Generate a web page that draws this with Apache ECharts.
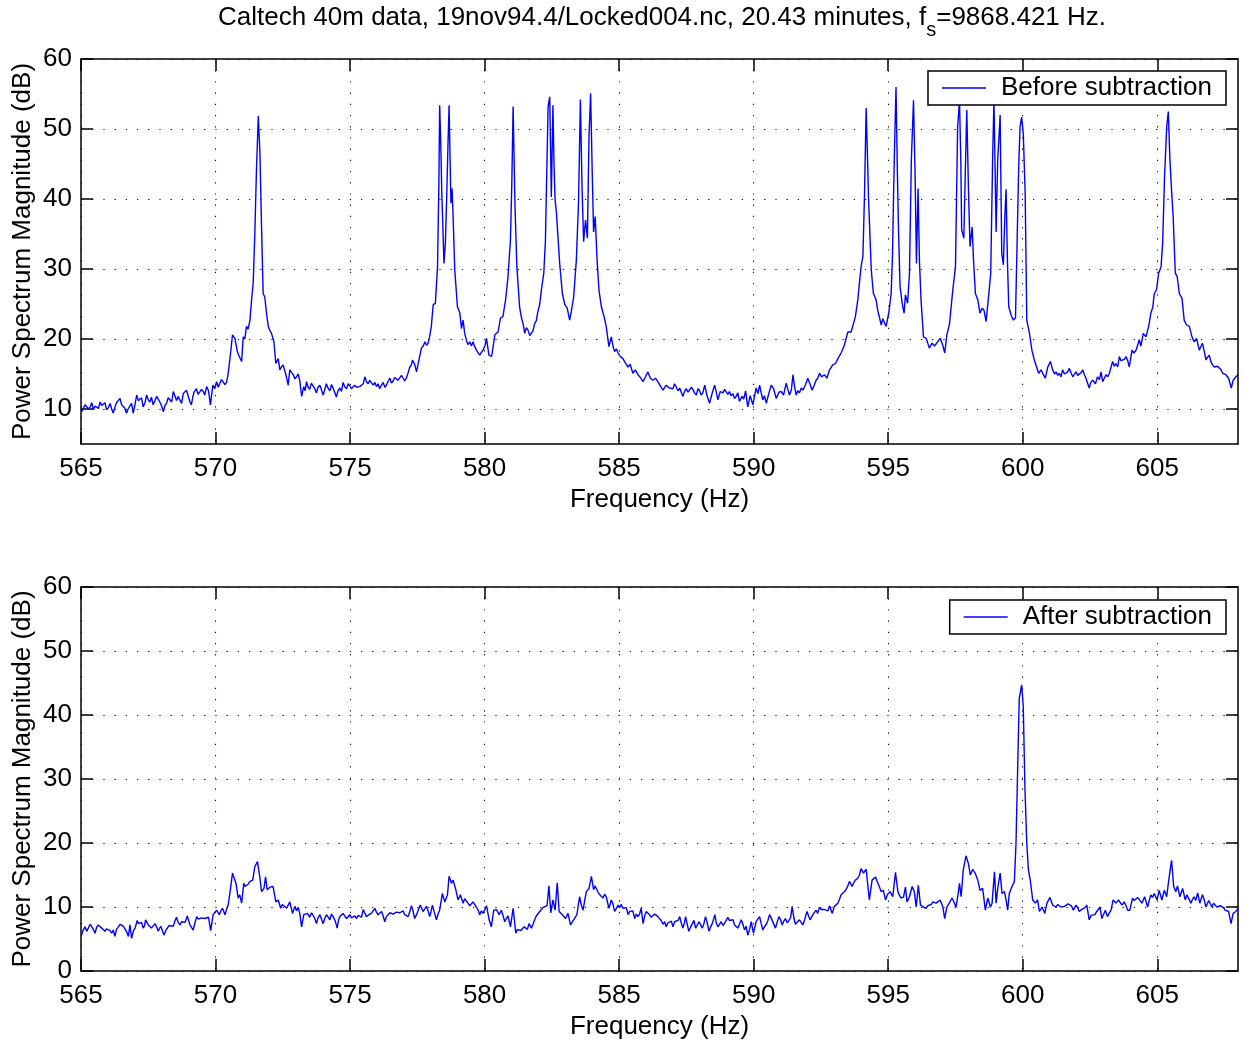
<!DOCTYPE html>
<html><head><meta charset="utf-8">
<script src="https://cdn.jsdelivr.net/npm/echarts@6/dist/echarts.min.js"></script>
<style>html,body{margin:0;padding:0;background:#fff}#c{width:1243px;height:1042px}</style>
</head><body><div id="c"></div>
<script>
const xTicks=[565,570,575,580,585,590,595,600,605];
const yTicksTop=[10,20,30,40,50,60];
const yTicksBottom=[0,10,20,30,40,50,60];
const titleMain='Caltech 40m data, 19nov94.4/Locked004.nc, 20.43 minutes, f';
const titleSub='s';
const titleTail='=9868.421 Hz.';
const xName='Frequency (Hz)';
const yName='Power Spectrum Magnitude (dB)';
const beforeName='Before subtraction';
const afterName='After subtraction';

const beforeData=[[565.02,9.6],[565.09,10.1],[565.15,10.6],[565.21,10.8],[565.28,10.0],[565.34,10.3],[565.40,10.9],[565.46,9.9],[565.52,10.4],[565.58,10.6],[565.65,10.1],[565.71,11.0],[565.77,10.5],[565.83,10.4],[565.89,10.9],[565.95,9.9],[566.02,10.2],[566.08,10.8],[566.14,10.0],[566.20,9.4],[566.26,10.3],[566.32,10.9],[566.38,11.2],[566.45,11.5],[566.51,10.6],[566.57,10.7],[566.63,10.1],[566.69,9.4],[566.75,10.0],[566.82,10.2],[566.88,10.8],[566.94,9.4],[567.00,10.5],[567.07,12.0],[567.13,11.2],[567.19,11.0],[567.25,11.6],[567.31,10.3],[567.38,10.9],[567.44,12.0],[567.50,11.3],[567.56,11.0],[567.62,11.7],[567.68,10.6],[567.75,11.2],[567.81,11.8],[567.87,11.4],[567.93,11.0],[568.00,10.4],[568.06,9.6],[568.12,10.5],[568.18,10.8],[568.24,11.6],[568.30,11.5],[568.37,11.0],[568.43,12.5],[568.49,11.9],[568.55,11.2],[568.61,11.8],[568.67,11.3],[568.74,10.8],[568.80,12.2],[568.86,12.0],[568.92,12.7],[569.00,11.6],[569.05,11.0],[569.10,10.6],[569.15,11.6],[569.20,12.4],[569.29,12.9],[569.35,12.1],[569.42,12.2],[569.48,12.8],[569.54,12.5],[569.60,12.0],[569.67,13.2],[569.74,12.6],[569.81,10.6],[569.90,13.4],[569.97,12.9],[570.04,13.9],[570.10,13.1],[570.16,13.3],[570.22,14.2],[570.29,14.1],[570.35,13.5],[570.41,13.8],[570.47,15.1],[570.56,18.0],[570.63,20.6],[570.72,20.1],[570.81,18.2],[570.88,17.5],[570.97,16.8],[571.03,20.3],[571.09,20.0],[571.15,21.8],[571.21,21.4],[571.28,22.7],[571.34,25.6],[571.40,28.0],[571.46,35.0],[571.52,44.0],[571.59,51.9],[571.65,46.5],[571.71,36.0],[571.77,26.5],[571.83,26.0],[571.90,23.5],[571.96,21.8],[572.02,21.2],[572.08,20.8],[572.17,19.6],[572.24,16.5],[572.33,17.2],[572.39,15.6],[572.45,16.0],[572.51,16.3],[572.61,15.0],[572.70,13.4],[572.76,15.6],[572.83,15.2],[572.89,14.9],[572.95,14.3],[573.01,14.6],[573.07,15.0],[573.13,14.1],[573.20,11.8],[573.28,13.2],[573.33,12.6],[573.38,13.9],[573.44,13.1],[573.50,12.8],[573.56,13.7],[573.63,13.5],[573.69,12.9],[573.75,12.3],[573.81,13.1],[573.88,13.4],[573.94,12.7],[574.00,12.0],[574.06,12.8],[574.12,13.6],[574.18,13.0],[574.25,12.6],[574.31,13.5],[574.37,13.3],[574.43,12.4],[574.49,11.7],[574.55,12.6],[574.62,13.0],[574.68,12.5],[574.74,13.8],[574.80,13.2],[574.87,12.9],[574.93,13.6],[574.99,13.3],[575.05,12.9],[575.11,12.7],[575.17,13.4],[575.24,13.1],[575.30,13.0],[575.36,13.2],[575.42,13.4],[575.49,13.6],[575.55,14.6],[575.61,13.9],[575.67,13.6],[575.73,14.1],[575.80,14.2],[575.86,13.4],[575.92,13.8],[575.98,13.2],[576.04,13.6],[576.10,12.9],[576.17,13.4],[576.23,13.8],[576.29,13.1],[576.35,13.4],[576.42,14.0],[576.48,14.4],[576.54,13.7],[576.60,14.0],[576.66,14.5],[576.72,14.7],[576.78,14.1],[576.85,14.3],[576.91,14.8],[576.97,14.9],[577.03,14.0],[577.09,14.4],[577.16,15.2],[577.22,16.0],[577.28,16.3],[577.32,17.0],[577.40,16.4],[577.47,15.3],[577.57,17.2],[577.65,18.7],[577.72,19.0],[577.78,19.6],[577.84,19.1],[577.90,19.4],[577.96,20.4],[578.02,21.8],[578.09,24.9],[578.17,25.1],[578.25,30.3],[578.30,42.0],[578.33,53.4],[578.37,48.0],[578.41,40.8],[578.49,30.8],[578.54,33.5],[578.59,40.0],[578.64,48.0],[578.68,53.4],[578.72,45.0],[578.75,39.4],[578.79,41.5],[578.83,37.5],[578.89,29.9],[578.99,24.6],[579.08,23.7],[579.14,21.5],[579.20,22.7],[579.26,20.8],[579.32,19.9],[579.38,19.2],[579.45,19.6],[579.51,19.0],[579.57,19.6],[579.63,18.9],[579.70,18.4],[579.76,18.0],[579.82,17.7],[579.88,18.1],[579.94,18.4],[580.01,19.0],[580.07,20.1],[580.16,17.7],[580.26,17.5],[580.32,19.0],[580.38,20.6],[580.44,20.8],[580.50,21.0],[580.59,23.0],[580.68,23.2],[580.78,25.6],[580.87,28.9],[580.96,34.1],[581.01,42.0],[581.06,53.2],[581.09,47.0],[581.13,38.9],[581.20,30.3],[581.30,24.6],[581.36,23.2],[581.43,22.2],[581.49,20.8],[581.55,21.6],[581.61,21.3],[581.68,20.5],[581.74,20.3],[581.80,21.2],[581.86,22.2],[581.92,22.6],[581.98,23.9],[582.05,25.0],[582.11,27.0],[582.20,29.4],[582.26,34.0],[582.29,39.9],[582.36,53.2],[582.42,54.6],[582.48,40.3],[582.54,53.4],[582.58,45.0],[582.62,39.9],[582.67,38.0],[582.73,38.2],[582.79,30.8],[582.89,26.5],[582.98,24.9],[583.07,24.4],[583.16,22.7],[583.22,23.9],[583.31,26.0],[583.41,31.3],[583.49,39.4],[583.56,54.2],[583.62,41.8],[583.68,33.9],[583.75,37.0],[583.82,34.4],[583.88,48.9],[583.94,55.1],[584.00,43.7],[584.05,35.3],[584.11,37.5],[584.18,31.3],[584.25,27.0],[584.34,24.6],[584.44,23.2],[584.52,21.8],[584.62,18.9],[584.71,20.3],[584.77,19.0],[584.83,18.2],[584.90,18.6],[584.96,18.0],[585.04,17.5],[585.14,17.2],[585.23,16.6],[585.33,16.0],[585.41,16.4],[585.51,15.1],[585.60,15.6],[585.70,14.9],[585.79,14.5],[585.88,13.9],[585.98,14.6],[586.07,15.3],[586.16,14.4],[586.26,14.1],[586.35,14.4],[586.44,13.9],[586.53,13.3],[586.63,12.7],[586.75,13.4],[586.87,13.0],[587.00,12.9],[587.06,13.6],[587.12,13.4],[587.19,12.6],[587.25,13.0],[587.31,12.4],[587.37,11.8],[587.43,12.5],[587.49,12.9],[587.56,12.4],[587.62,12.2],[587.68,13.1],[587.74,12.8],[587.80,12.3],[587.87,12.0],[587.93,12.9],[587.99,12.6],[588.05,12.0],[588.11,12.3],[588.18,13.4],[588.26,12.0],[588.36,10.8],[588.46,12.3],[588.55,13.4],[588.61,12.4],[588.67,11.3],[588.76,12.5],[588.86,12.3],[588.92,12.8],[588.98,13.0],[589.04,12.1],[589.10,12.5],[589.16,11.9],[589.23,12.2],[589.29,11.5],[589.35,11.8],[589.41,12.3],[589.47,11.1],[589.57,11.8],[589.63,11.4],[589.70,12.6],[589.78,10.3],[589.87,11.9],[589.97,10.6],[590.03,11.8],[590.09,13.0],[590.16,12.2],[590.22,13.4],[590.28,12.3],[590.34,11.3],[590.40,11.9],[590.47,10.8],[590.56,12.2],[590.65,13.4],[590.74,12.9],[590.84,11.5],[590.94,12.4],[591.02,12.5],[591.11,12.0],[591.21,13.7],[591.27,12.8],[591.33,12.0],[591.40,12.7],[591.46,14.9],[591.52,13.2],[591.58,12.0],[591.64,12.6],[591.70,12.3],[591.77,13.0],[591.83,12.7],[591.93,13.5],[592.01,14.4],[592.09,13.6],[592.17,12.7],[592.25,13.4],[592.32,14.1],[592.38,14.4],[592.45,15.1],[592.53,14.6],[592.63,14.9],[592.72,14.4],[592.82,15.6],[592.88,15.4],[592.94,16.3],[593.04,16.5],[593.13,17.2],[593.25,18.0],[593.37,19.1],[593.50,21.0],[593.56,20.8],[593.62,21.0],[593.68,21.8],[593.78,23.2],[593.87,25.6],[593.99,30.3],[594.06,31.8],[594.12,40.8],[594.18,53.0],[594.23,46.0],[594.27,39.9],[594.37,29.9],[594.45,26.5],[594.55,25.6],[594.61,24.1],[594.68,23.0],[594.74,22.0],[594.80,22.9],[594.84,23.0],[594.92,21.8],[595.02,23.7],[595.11,26.5],[595.16,32.0],[595.20,40.8],[595.24,48.0],[595.29,56.0],[595.34,44.0],[595.38,36.0],[595.44,27.5],[595.52,25.1],[595.59,23.7],[595.64,26.3],[595.72,25.1],[595.79,29.4],[595.86,45.6],[595.94,54.1],[596.00,43.2],[596.05,30.8],[596.11,41.5],[596.16,31.3],[596.22,25.6],[596.31,20.3],[596.41,20.1],[596.53,18.7],[596.63,19.4],[596.72,19.0],[596.80,19.4],[596.93,20.1],[597.03,19.1],[597.10,18.0],[597.18,20.6],[597.28,22.2],[597.40,27.0],[597.50,30.3],[597.58,50.3],[597.65,54.0],[597.70,45.0],[597.73,35.6],[597.81,34.4],[597.87,44.6],[597.92,52.7],[597.98,41.8],[598.04,33.2],[598.12,36.0],[598.17,31.3],[598.24,26.5],[598.33,25.6],[598.41,23.7],[598.49,24.4],[598.56,24.1],[598.64,22.5],[598.74,26.5],[598.81,29.4],[598.88,45.6],[598.93,54.1],[598.97,45.0],[599.01,35.3],[599.07,45.6],[599.16,52.0],[599.19,42.0],[599.22,32.2],[599.28,30.6],[599.33,37.0],[599.38,41.4],[599.43,31.3],[599.48,24.6],[599.57,23.4],[599.65,22.7],[599.73,23.0],[599.79,33.7],[599.85,44.6],[599.90,50.3],[599.96,51.7],[600.02,49.4],[600.09,40.8],[600.15,22.7],[600.25,20.8],[600.34,18.4],[600.43,17.0],[600.49,16.8],[600.59,15.1],[600.68,15.6],[600.74,15.1],[600.84,14.4],[600.93,16.0],[601.03,16.8],[601.11,15.6],[601.18,15.0],[601.24,15.3],[601.30,14.8],[601.36,15.1],[601.42,14.6],[601.48,15.6],[601.55,15.0],[601.61,14.9],[601.67,15.3],[601.73,15.8],[601.80,15.1],[601.86,14.6],[601.92,15.0],[601.98,15.3],[602.04,14.8],[602.10,14.6],[602.17,15.2],[602.23,15.6],[602.29,14.9],[602.35,14.4],[602.41,14.5],[602.47,13.0],[602.53,13.8],[602.60,14.1],[602.70,13.6],[602.78,14.6],[602.85,14.2],[602.91,15.3],[602.97,13.9],[603.03,14.4],[603.09,14.9],[603.16,14.6],[603.22,15.1],[603.28,14.9],[603.34,16.8],[603.40,16.1],[603.46,16.5],[603.53,16.0],[603.59,17.5],[603.65,16.9],[603.71,16.8],[603.78,17.1],[603.84,17.5],[603.90,16.9],[603.96,16.0],[604.06,18.4],[604.13,18.0],[604.21,18.4],[604.27,19.1],[604.33,19.9],[604.39,19.0],[604.48,20.8],[604.58,20.3],[604.68,21.8],[604.76,23.7],[604.83,24.5],[604.89,26.5],[604.97,27.0],[605.05,29.4],[605.14,30.3],[605.20,33.7],[605.27,43.2],[605.35,50.3],[605.41,52.5],[605.47,45.6],[605.53,41.3],[605.59,37.5],[605.67,29.4],[605.74,28.9],[605.82,26.5],[605.92,25.8],[606.00,22.7],[606.09,22.0],[606.19,21.8],[606.29,20.3],[606.37,19.6],[606.46,20.1],[606.56,18.4],[606.62,18.9],[606.68,19.4],[606.75,18.2],[606.81,17.0],[606.87,17.4],[606.93,17.7],[606.99,16.8],[607.05,16.3],[607.12,16.0],[607.18,15.8],[607.24,16.1],[607.30,16.3],[607.37,15.6],[607.43,15.1],[607.49,15.3],[607.55,14.9],[607.65,14.4],[607.75,13.0],[607.82,14.1],[607.92,14.6],[608.00,14.9]];

const afterData=[[565.02,5.6],[565.08,6.4],[565.15,6.9],[565.21,6.2],[565.27,6.7],[565.34,7.3],[565.40,7.0],[565.46,6.5],[565.52,5.9],[565.58,6.8],[565.64,7.2],[565.71,6.9],[565.77,6.7],[565.83,7.0],[565.89,6.2],[565.95,6.6],[566.02,6.9],[566.08,6.3],[566.14,5.9],[566.20,6.4],[566.26,5.4],[566.32,6.5],[566.39,6.9],[566.45,7.3],[566.51,7.6],[566.57,7.0],[566.63,6.7],[566.70,6.1],[566.76,5.4],[566.82,7.2],[566.88,5.1],[566.95,6.3],[567.01,6.7],[567.09,7.9],[567.14,7.4],[567.19,7.2],[567.25,7.6],[567.31,6.7],[567.36,7.1],[567.40,8.0],[567.45,7.6],[567.50,7.2],[567.56,7.5],[567.62,6.7],[567.68,7.0],[567.75,7.4],[567.81,6.9],[567.87,6.2],[567.96,7.0],[568.02,6.4],[568.08,5.6],[568.15,6.3],[568.21,6.7],[568.27,7.1],[568.33,7.4],[568.43,7.0],[568.49,7.8],[568.55,8.4],[568.61,7.6],[568.68,7.2],[568.74,7.7],[568.80,8.0],[568.87,7.6],[568.95,8.6],[569.05,7.2],[569.11,7.5],[569.17,6.4],[569.24,7.6],[569.30,8.5],[569.36,8.1],[569.42,7.9],[569.48,8.3],[569.54,8.6],[569.60,8.2],[569.67,8.0],[569.74,8.4],[569.82,6.3],[569.91,8.8],[569.97,9.1],[570.04,9.5],[570.14,8.8],[570.20,9.4],[570.26,9.8],[570.35,8.8],[570.41,9.6],[570.47,10.3],[570.56,13.0],[570.63,15.3],[570.70,14.4],[570.76,13.7],[570.84,11.4],[570.90,11.9],[570.97,10.6],[571.05,13.7],[571.10,13.2],[571.15,12.9],[571.22,13.6],[571.28,14.0],[571.38,14.2],[571.46,16.3],[571.56,17.1],[571.65,14.5],[571.71,12.4],[571.80,12.9],[571.86,14.7],[571.92,12.7],[571.97,13.0],[572.02,13.1],[572.08,13.4],[572.14,13.2],[572.24,10.8],[572.33,11.1],[572.42,9.8],[572.48,10.4],[572.54,10.6],[572.64,9.8],[572.70,10.3],[572.76,10.8],[572.86,9.0],[572.95,10.1],[573.01,9.4],[573.07,9.95],[573.13,9.0],[573.20,6.9],[573.28,8.8],[573.35,8.6],[573.41,9.0],[573.50,8.4],[573.57,9.1],[573.63,8.8],[573.69,8.2],[573.75,7.4],[573.81,8.3],[573.88,8.8],[573.94,8.1],[574.00,7.4],[574.06,8.2],[574.12,8.8],[574.19,8.4],[574.25,8.0],[574.31,8.9],[574.37,8.5],[574.45,7.8],[574.52,6.7],[574.57,7.9],[574.62,8.5],[574.68,8.2],[574.74,9.0],[574.80,8.6],[574.87,8.2],[574.93,8.5],[574.99,8.8],[575.05,8.3],[575.11,8.0],[575.18,8.6],[575.24,8.2],[575.30,8.7],[575.36,8.9],[575.42,8.4],[575.49,9.6],[575.55,9.0],[575.61,8.5],[575.70,8.8],[575.79,9.0],[575.85,8.7],[575.92,9.8],[575.98,9.2],[576.04,8.8],[576.10,9.0],[576.17,9.3],[576.23,8.6],[576.29,7.7],[576.35,8.5],[576.41,8.8],[576.48,9.1],[576.54,9.3],[576.60,8.9],[576.66,8.8],[576.72,9.2],[576.79,9.5],[576.85,9.1],[576.91,9.0],[576.97,9.4],[577.03,8.8],[577.10,9.1],[577.16,8.5],[577.22,9.3],[577.28,10.2],[577.34,9.4],[577.40,8.2],[577.47,8.8],[577.53,9.0],[577.61,10.3],[577.71,9.3],[577.78,9.7],[577.84,10.1],[577.90,9.4],[577.96,8.5],[578.01,9.3],[578.06,10.3],[578.13,9.2],[578.21,8.0],[578.27,8.9],[578.33,9.5],[578.43,12.1],[578.52,10.8],[578.62,11.9],[578.68,14.8],[578.77,13.7],[578.83,14.2],[578.93,12.7],[579.01,11.1],[579.10,11.9],[579.20,10.6],[579.26,11.3],[579.32,11.1],[579.38,10.6],[579.45,10.2],[579.51,10.5],[579.57,10.8],[579.63,10.4],[579.70,10.1],[579.76,9.5],[579.82,8.8],[579.88,9.4],[579.94,9.0],[580.01,9.6],[580.07,10.2],[580.17,8.0],[580.25,6.9],[580.34,9.5],[580.44,9.6],[580.54,8.8],[580.62,9.5],[580.69,8.6],[580.75,7.7],[580.81,8.2],[580.87,8.6],[580.96,6.9],[581.06,9.8],[581.16,5.9],[581.22,6.5],[581.28,6.8],[581.34,6.3],[581.40,6.3],[581.47,6.9],[581.53,6.7],[581.59,6.5],[581.65,7.4],[581.74,6.7],[581.80,7.3],[581.86,8.0],[581.92,8.6],[581.99,8.8],[582.05,9.3],[582.11,9.6],[582.17,9.9],[582.23,10.1],[582.32,10.2],[582.39,13.3],[582.46,9.1],[582.54,11.1],[582.62,9.5],[582.70,13.8],[582.77,9.3],[582.83,9.6],[582.89,8.8],[582.95,8.5],[583.01,8.2],[583.10,9.0],[583.19,7.2],[583.25,7.6],[583.31,8.0],[583.37,8.3],[583.43,8.8],[583.53,11.6],[583.59,10.4],[583.66,9.5],[583.72,11.0],[583.78,12.4],[583.88,12.9],[583.97,14.8],[584.05,12.7],[584.10,13.3],[584.15,12.9],[584.22,12.3],[584.28,11.9],[584.34,12.2],[584.40,11.4],[584.46,12.0],[584.52,11.6],[584.62,9.8],[584.71,11.1],[584.77,10.5],[584.83,9.3],[584.90,9.8],[584.96,10.3],[585.02,9.9],[585.08,10.4],[585.14,9.8],[585.21,9.6],[585.27,9.9],[585.33,8.8],[585.39,9.3],[585.45,9.0],[585.51,9.4],[585.58,8.2],[585.64,8.9],[585.70,8.5],[585.76,8.9],[585.82,9.8],[585.89,7.4],[585.95,8.6],[586.01,9.3],[586.07,9.0],[586.13,8.8],[586.19,8.4],[586.26,8.2],[586.32,8.9],[586.38,8.8],[586.44,8.5],[586.50,8.2],[586.56,7.9],[586.63,7.3],[586.69,7.7],[586.75,6.9],[586.81,7.5],[586.88,7.3],[586.94,7.8],[587.00,6.9],[587.06,7.7],[587.12,7.4],[587.19,7.9],[587.25,8.5],[587.31,7.5],[587.37,6.7],[587.43,7.6],[587.47,8.5],[587.53,7.3],[587.59,6.2],[587.66,6.9],[587.72,7.4],[587.78,7.9],[587.84,6.7],[587.90,7.0],[587.97,7.7],[588.03,7.2],[588.09,6.7],[588.15,7.4],[588.21,8.5],[588.27,7.6],[588.34,6.2],[588.40,6.9],[588.46,7.4],[588.56,8.8],[588.61,7.5],[588.67,6.9],[588.73,7.3],[588.79,7.7],[588.86,7.1],[588.92,7.4],[588.98,7.9],[589.04,8.4],[589.10,7.9],[589.17,7.7],[589.23,8.0],[589.29,7.2],[589.35,7.5],[589.41,6.7],[589.47,7.3],[589.54,8.0],[589.60,7.3],[589.66,6.4],[589.72,7.0],[589.78,5.6],[589.85,6.5],[589.91,7.7],[589.99,5.9],[590.09,7.7],[590.15,8.0],[590.22,8.5],[590.28,7.4],[590.34,6.4],[590.40,6.9],[590.47,7.3],[590.53,7.9],[590.59,8.8],[590.65,8.3],[590.71,8.5],[590.81,6.7],[590.87,7.6],[590.94,8.5],[591.00,8.0],[591.06,7.2],[591.12,7.8],[591.18,8.2],[591.25,7.5],[591.31,7.7],[591.37,8.3],[591.43,10.1],[591.49,8.4],[591.55,7.3],[591.62,7.6],[591.70,8.0],[591.76,7.7],[591.83,7.2],[591.90,8.1],[591.98,9.3],[592.04,8.6],[592.10,8.0],[592.20,8.8],[592.26,9.1],[592.32,9.5],[592.38,9.0],[592.45,9.95],[592.51,9.6],[592.57,9.3],[592.63,9.6],[592.69,9.8],[592.76,9.4],[592.82,10.2],[592.92,9.0],[593.00,10.1],[593.07,10.4],[593.13,10.6],[593.19,11.2],[593.25,11.9],[593.31,11.6],[593.37,12.4],[593.44,12.8],[593.50,13.3],[593.56,14.0],[593.66,13.2],[593.72,13.8],[593.78,14.2],[593.87,14.5],[593.93,15.0],[593.99,16.0],[594.08,15.3],[594.18,15.9],[594.24,15.8],[594.30,11.1],[594.40,14.2],[594.46,14.5],[594.53,14.7],[594.59,14.0],[594.65,13.4],[594.74,12.4],[594.82,12.6],[594.90,11.1],[594.98,12.0],[595.07,12.4],[595.17,11.6],[595.27,15.4],[595.36,12.4],[595.42,11.8],[595.48,11.4],[595.57,11.6],[595.64,13.1],[595.70,10.8],[595.79,11.6],[595.89,13.2],[595.97,12.4],[596.04,10.0],[596.12,13.4],[596.20,10.3],[596.31,10.0],[596.41,9.8],[596.47,10.2],[596.53,9.95],[596.60,10.4],[596.66,10.8],[596.72,10.5],[596.78,10.6],[596.85,10.9],[596.93,11.1],[597.03,10.0],[597.10,8.2],[597.18,10.0],[597.27,10.6],[597.37,11.4],[597.45,10.7],[597.52,9.95],[597.60,12.1],[597.65,13.7],[597.71,11.6],[597.79,15.8],[597.89,18.0],[597.98,16.8],[598.05,15.0],[598.14,15.9],[598.24,15.2],[598.33,14.2],[598.41,12.6],[598.51,12.9],[598.61,9.5],[598.70,11.4],[598.80,10.0],[598.86,10.6],[598.95,15.5],[599.01,10.6],[599.08,13.2],[599.16,15.3],[599.23,12.1],[599.32,12.4],[599.38,11.1],[599.44,9.5],[599.50,12.1],[599.60,13.2],[599.69,14.0],[599.75,20.0],[599.81,31.4],[599.87,42.6],[599.96,44.7],[600.02,41.3],[600.08,28.8],[600.15,20.0],[600.21,15.8],[600.28,14.2],[600.37,11.1],[600.47,10.6],[600.55,11.1],[600.62,9.3],[600.72,10.0],[600.82,9.0],[600.90,10.6],[600.96,10.9],[601.01,11.5],[601.11,10.3],[601.17,10.5],[601.24,10.0],[601.30,10.4],[601.36,10.3],[601.42,10.0],[601.48,9.8],[601.55,10.1],[601.61,10.3],[601.69,10.5],[601.76,10.8],[601.82,10.1],[601.88,9.5],[601.93,9.9],[601.98,10.3],[602.04,9.9],[602.10,9.3],[602.18,9.6],[602.25,9.5],[602.31,9.9],[602.38,10.3],[602.47,8.0],[602.54,8.7],[602.60,9.0],[602.68,8.8],[602.75,9.3],[602.81,9.6],[602.87,10.0],[602.94,8.2],[603.01,8.9],[603.07,9.5],[603.15,8.5],[603.21,9.0],[603.28,9.5],[603.36,11.1],[603.46,10.6],[603.56,11.1],[603.62,10.7],[603.69,10.3],[603.77,10.8],[603.84,10.2],[603.90,9.5],[603.98,9.5],[604.08,11.4],[604.14,11.0],[604.21,11.1],[604.27,11.5],[604.33,11.6],[604.43,10.6],[604.53,11.6],[604.64,10.0],[604.70,11.0],[604.76,11.9],[604.82,11.5],[604.89,12.1],[604.99,11.1],[605.07,12.6],[605.17,11.1],[605.26,12.6],[605.35,11.6],[605.42,14.0],[605.53,17.3],[605.61,13.2],[605.69,12.4],[605.75,13.3],[605.84,11.6],[605.94,12.9],[606.04,11.1],[606.10,11.9],[606.16,11.6],[606.25,10.6],[606.31,11.2],[606.37,11.6],[606.43,11.0],[606.50,12.2],[606.58,10.6],[606.68,11.9],[606.74,11.2],[606.81,10.0],[606.91,11.0],[606.97,10.5],[607.03,10.0],[607.09,10.6],[607.15,10.3],[607.21,10.0],[607.28,9.8],[607.34,10.2],[607.40,10.3],[607.46,9.9],[607.52,9.5],[607.58,9.8],[607.65,9.3],[607.74,7.4],[607.82,9.0],[607.92,9.3],[608.00,9.8]];

const FONT='"Liberation Sans", Arial, Helvetica, sans-serif';
const FS=26;
const AXC='#000';
const LINEC='#0000ff';
const textBase={color:'#000',fontSize:FS,fontFamily:FONT};
const dotted={show:true,lineStyle:{color:'#000',width:1.1,type:[1.2,10]}};

function xAxes(gi){
  return [
    {type:'value',gridIndex:gi,min:565,max:608,position:'bottom',
     axisLine:{show:true,onZero:false,lineStyle:{color:AXC,width:1.5}},
     axisTick:{show:true,inside:true,length:12,customValues:xTicks,lineStyle:{color:AXC,width:1.5}},
     axisLabel:{show:true,customValues:xTicks,margin:12,...textBase},
     splitLine:dotted,
     name:xName,nameLocation:'middle',nameGap:43,nameTextStyle:textBase},
    {type:'value',gridIndex:gi,min:565,max:608,position:'top',
     axisLine:{show:true,onZero:false,lineStyle:{color:AXC,width:1.5}},
     axisTick:{show:true,inside:true,length:12,customValues:xTicks,lineStyle:{color:AXC,width:1.5}},
     axisLabel:{show:false},splitLine:{show:false}}
  ];
}
function yAxes(gi,mn,ticks){
  return [
    {type:'value',gridIndex:gi,min:mn,max:60,position:'left',
     axisLine:{show:true,onZero:false,lineStyle:{color:AXC,width:1.5}},
     axisTick:{show:true,inside:true,length:12,customValues:ticks,lineStyle:{color:AXC,width:1.5}},
     axisLabel:{show:true,customValues:ticks,margin:9,...textBase},
     splitLine:dotted,
     name:yName,nameLocation:'middle',nameGap:45,nameRotate:90,nameMoveOverlap:false,nameTextStyle:textBase},
    {type:'value',gridIndex:gi,min:mn,max:60,position:'right',
     axisLine:{show:true,onZero:false,lineStyle:{color:AXC,width:1.5}},
     axisTick:{show:true,inside:true,length:12,customValues:ticks,lineStyle:{color:AXC,width:1.5}},
     axisLabel:{show:false},splitLine:{show:false}}
  ];
}
function legendFor(name,top){
  return {data:[name],right:17,top:top,orient:'horizontal',
    backgroundColor:'#fff',borderColor:'#000',borderWidth:1.5,borderRadius:0,
    padding:[4,14,4,14],icon:'rect',itemWidth:44,itemHeight:1.4,
    itemStyle:{color:LINEC,borderWidth:0},
    textStyle:{color:'#000',fontSize:FS,fontFamily:FONT,padding:[0,0,0,10]}};
}

const chart=echarts.init(document.getElementById('c'),null,{renderer:'canvas'});
chart.setOption({
  animation:false,
  backgroundColor:'#fff',
  grid:[
    {left:81,top:59,width:1157,height:385,containLabel:false},
    {left:81,top:587,width:1157,height:384,containLabel:false}
  ],
  xAxis:[...xAxes(0),...xAxes(1)],
  yAxis:[...yAxes(0,5,yTicksTop),...yAxes(1,0,yTicksBottom)],
  legend:[legendFor(beforeName,71),legendFor(afterName,600)],
  graphic:[{type:'text',x:662,y:5,z:100,
    style:{text:'{t|'+titleMain+'}{s|'+titleSub+'}{t|'+titleTail+'}',
      align:'center',verticalAlign:'top',fill:'#000',
      rich:{t:{fontSize:FS,fontFamily:FONT,fill:'#000',lineHeight:30,verticalAlign:'top'},
            s:{fontSize:20,fontFamily:FONT,fill:'#000',lineHeight:20,padding:[15,0,0,0],verticalAlign:'top'}}}}],
  series:[
    {type:'line',name:beforeName,xAxisIndex:0,yAxisIndex:0,data:beforeData,
     symbol:'none',showSymbol:false,silent:true,
     lineStyle:{color:LINEC,width:1.4},itemStyle:{color:LINEC}},
    {type:'line',name:afterName,xAxisIndex:2,yAxisIndex:2,data:afterData,
     symbol:'none',showSymbol:false,silent:true,
     lineStyle:{color:LINEC,width:1.4},itemStyle:{color:LINEC}}
  ]
});
</script></body></html>
